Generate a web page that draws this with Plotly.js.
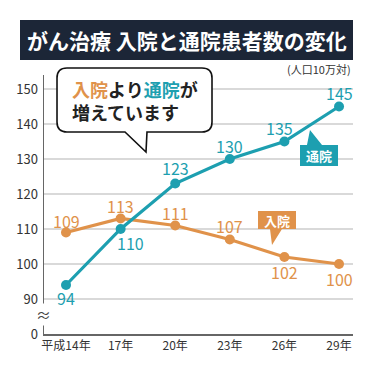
<!DOCTYPE html>
<html><head><meta charset="utf-8">
<script src="https://cdn.plot.ly/plotly-3.0.1.min.js"></script>
<style>html,body{margin:0;padding:0;background:#fff}#chart{width:375px;height:375px}</style>
</head><body><div id="chart"></div>
<script>
const years = ['平成14年','17年','20年','23年','26年','29年'];
const outpatient = [94,110,123,130,135,145];
const inpatient = [109,113,111,107,102,100];
const yTickVals = [80,90,100,110,120,130,140,150];
const yTickText = ['0','90','100','110','120','130','140','150'];

const TEAL = '#1d9fb0', ORANGE = '#e0924a', NAVY = '#1c2637';
const FONT = '"Noto Sans CJK JP", "Noto Sans", sans-serif';
const L = 44, R = 22, T = 75, B = 41, W = 375, H = 375;
const pw = W - L - R, ph = H - T - B;
const px = x => (x - L) / pw;
const py = y => (H - B - y) / ph;
const P = (x, y) => px(x).toFixed(4) + ',' + py(y).toFixed(4);

const xIdx = years.map((_, i) => i);

const traces = [
  {x: xIdx, y: inpatient, mode: 'lines+markers', line: {color: ORANGE, width: 3.2},
   marker: {color: ORANGE, size: 10}, hoverinfo: 'none'},
  {x: xIdx, y: outpatient, mode: 'lines+markers', line: {color: TEAL, width: 3.2},
   marker: {color: TEAL, size: 10}, hoverinfo: 'none'}
];

const outShift = [[0,-13],[10,-14],[0,16],[0,13],[-5,14],[0,14]];
const inShift = [[0,12],[0,13],[0,13],[0,14],[0,-15],[0,-15]];
const annotations = [];
const C = {xanchor: 'center', yanchor: 'middle', showarrow: false};
outpatient.forEach((v, i) => annotations.push(Object.assign({x: i, y: v, xref: 'x', yref: 'y', text: String(v),
  xshift: outShift[i][0], yshift: outShift[i][1], font: {family: FONT, size: 16, color: TEAL}}, C)));
inpatient.forEach((v, i) => annotations.push(Object.assign({x: i, y: v, xref: 'x', yref: 'y', text: String(v),
  xshift: inShift[i][0], yshift: inShift[i][1], font: {family: FONT, size: 16, color: ORANGE}}, C)));

annotations.push(Object.assign({xref: 'paper', yref: 'paper', x: px(187), y: py(40), text: '<b>がん治療 入院と通院患者数の変化</b>',
  font: {family: FONT, size: 21, color: '#fff'}}, C));
annotations.push(Object.assign({xref: 'paper', yref: 'paper', x: px(353), y: py(69), text: '(人口10万対)',
  font: {family: FONT, size: 11, color: '#333'}}, C, {xanchor: 'right'}));
annotations.push(Object.assign({xref: 'paper', yref: 'paper', x: px(70), y: py(100), align: 'left',
  text: '<b><span style="color:' + ORANGE + '">入院</span>より<span style="color:' + TEAL + '">通院</span>が<br>増えています</b>',
  font: {family: FONT, size: 18, color: '#222'}}, C, {xanchor: 'left'}));
annotations.push(Object.assign({xref: 'paper', yref: 'paper', x: px(319), y: py(155.5), text: '<b>通院</b>',
  font: {family: FONT, size: 13, color: '#fff'}}, C));
annotations.push(Object.assign({xref: 'paper', yref: 'paper', x: px(277), y: py(220), text: '<b>入院</b>',
  font: {family: FONT, size: 13, color: '#fff'}}, C));
annotations.push(Object.assign({xref: 'paper', yref: 'paper', x: px(43), y: py(314), text: '≈',
  bgcolor: '#fff', borderpad: 0, font: {family: FONT, size: 15, color: '#444'}}, C));

// speech bubble path
const bx0 = 57, by0 = 68, bx1 = 212, by1 = 132, r = 10;
const bubble = 'M ' + P(bx0 + r, by0) + ' L ' + P(bx1 - r, by0) + ' Q ' + P(bx1, by0) + ' ' + P(bx1, by0 + r) +
  ' L ' + P(bx1, by1 - r) + ' Q ' + P(bx1, by1) + ' ' + P(bx1 - r, by1) +
  ' L ' + P(147, by1) + ' L ' + P(146, 152) + ' L ' + P(125, by1) +
  ' L ' + P(bx0 + r, by1) + ' Q ' + P(bx0, by1) + ' ' + P(bx0, by1 - r) +
  ' L ' + P(bx0, by0 + r) + ' Q ' + P(bx0, by0) + ' ' + P(bx0 + r, by0) + ' Z';

const tealBox = 'M ' + P(300, 145) + ' L ' + P(307, 145) + ' L ' + P(310, 130) + ' L ' + P(322, 145) +
  ' L ' + P(338, 145) + ' L ' + P(338, 166) + ' L ' + P(300, 166) + ' Z';
const orangeBox = 'M ' + P(258, 211) + ' L ' + P(296, 211) + ' L ' + P(296, 229) + ' L ' + P(282, 229) +
  ' L ' + P(272, 245) + ' L ' + P(270, 229) + ' L ' + P(258, 229) + ' Z';

const shapes = [
  {type: 'rect', xref: 'paper', yref: 'paper', x0: px(20), x1: px(353), y0: py(60), y1: py(20),
   fillcolor: NAVY, line: {width: 0}, layer: 'above'},
  {type: 'path', xref: 'paper', yref: 'paper', path: bubble, fillcolor: '#fff', line: {color: '#111', width: 1.6}, layer: 'above'},
  {type: 'path', xref: 'paper', yref: 'paper', path: tealBox, fillcolor: TEAL, line: {width: 0}, layer: 'above'},
  {type: 'path', xref: 'paper', yref: 'paper', path: orangeBox, fillcolor: ORANGE, line: {width: 0}, layer: 'above'}
];

const layout = {
  width: W, height: H, margin: {l: L, r: R, t: T, b: B},
  paper_bgcolor: '#fff', plot_bgcolor: '#fff', showlegend: false,
  font: {family: FONT, color: '#333'},
  xaxis: {range: [-0.403, 5.256], tickvals: xIdx, ticktext: years, showgrid: false, zeroline: false,
    showline: true, linecolor: '#666', linewidth: 1.5, ticks: '', tickfont: {family: FONT, size: 12, color: '#333'}, fixedrange: true},
  yaxis: {range: [80, 154], tickvals: yTickVals, ticktext: yTickText, showgrid: true, gridcolor: '#d9d9d9', gridwidth: 1.2,
    zeroline: false, showline: true, linecolor: '#666', linewidth: 1.5, ticks: '', ticklabelstandoff: 2,
    tickfont: {family: FONT, size: 13, color: '#333'}, fixedrange: true},
  annotations: annotations, shapes: shapes
};
Plotly.newPlot('chart', traces, layout, {displayModeBar: false, staticPlot: true});
</script></body></html>
